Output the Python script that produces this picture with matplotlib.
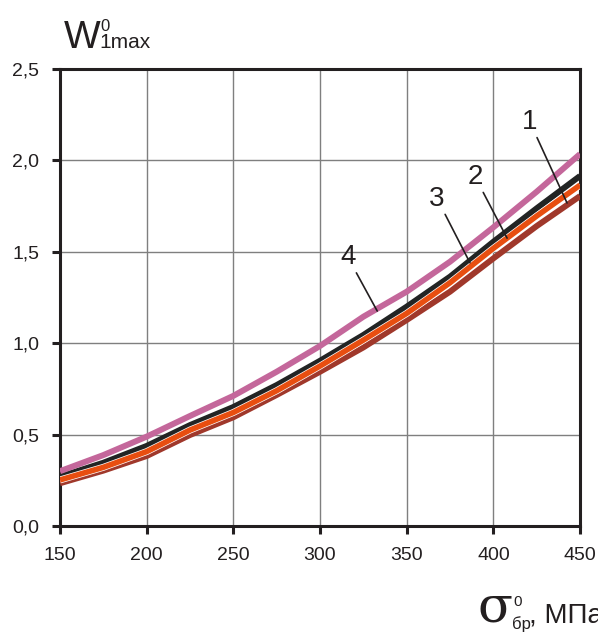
import matplotlib
matplotlib.use("Agg")

import matplotlib.pyplot as plt
import matplotlib.patheffects as pe

# stress, MPa
sigma = [150, 175, 200, 225, 250, 275, 300, 325, 350, 375, 400, 425, 450]

# curves 1..4
w_1 = [0.234, 0.303, 0.383, 0.498, 0.595, 0.717, 0.844, 0.977, 1.127, 1.282, 1.464, 1.641, 1.805]
w_2 = [0.252, 0.321, 0.407, 0.525, 0.621, 0.740, 0.875, 1.017, 1.163, 1.331, 1.519, 1.696, 1.865]
w_3 = [0.270, 0.346, 0.438, 0.552, 0.651, 0.771, 0.904, 1.045, 1.200, 1.364, 1.555, 1.738, 1.915]
w_4 = [0.300, 0.388, 0.489, 0.602, 0.712, 0.844, 0.985, 1.145, 1.282, 1.446, 1.634, 1.829, 2.035]

x_ticks = [150, 200, 250, 300, 350, 400, 450]
y_ticks = [0.0, 0.5, 1.0, 1.5, 2.0, 2.5]
y_tick_labels = ["0,0", "0,5", "1,0", "1,5", "2,0", "2,5"]

# curve labels: (text, label position, leader end)
labels = [
    ("1", (421, 2.14), (442.5, 1.767)),
    ("2", (389.4, 1.84), (407.9, 1.575)),
    ("3", (367.5, 1.72), (386.5, 1.44)),
    ("4", (316, 1.40), (333, 1.176)),
]

INK = "#231f20"

plt.rcParams["font.family"] = ["Liberation Sans", "DejaVu Sans"]

fig = plt.figure(figsize=(5.98, 6.32), dpi=100)
ax = fig.add_axes([0.1003, 0.1677, 0.8697, 0.7231])

ax.plot(sigma, w_1, color="#a0382b", lw=4.3, solid_capstyle="butt", zorder=3)
ax.plot(sigma, w_3, color="#222424", lw=4.3, solid_capstyle="butt", zorder=4)
ax.plot(sigma, w_2, color="#e84e10", lw=4.0, solid_capstyle="butt", zorder=5,
        path_effects=[pe.Stroke(linewidth=5.0, foreground="white"), pe.Normal()])
ax.plot(sigma, w_4, color="#c4679b", lw=4.3, solid_capstyle="butt", zorder=6)

for txt, (tx, ty), (ex, ey) in labels:
    ax.annotate(txt, xy=(ex, ey), xytext=(tx, ty), textcoords="data",
                ha="center", va="bottom", fontsize=20, color=INK,
                arrowprops=dict(arrowstyle="-", color=INK, lw=1.2,
                                shrinkA=0, shrinkB=0), zorder=7)

ax.set_xlim(150, 450)
ax.set_ylim(0, 2.5)
ax.set_xticks(x_ticks)
ax.set_xticklabels([str(v) for v in x_ticks])
ax.set_yticks(y_ticks)
ax.set_yticklabels(y_tick_labels)

ax.grid(True, color="#7f7f7f", lw=1.0)
ax.set_axisbelow(True)
for side in ("left", "right", "top", "bottom"):
    ax.spines[side].set_linewidth(2.2)
    ax.spines[side].set_color(INK)
ax.tick_params(direction="out", length=6, width=2.2, color=INK,
               labelsize=14, labelcolor=INK, pad=9)

# y axis label
fig.text(64 / 598, 1 - 48 / 632, "W", fontsize=28, color=INK, ha="left", va="baseline")
fig.text(100 / 598, 1 - 31 / 632, "0", fontsize=12, color=INK, ha="left", va="baseline")
fig.text(99 / 598, 1 - 48 / 632, "1max", fontsize=15, color=INK, ha="left", va="baseline")

# x axis label
fig.text(478 / 598, 1 - 622 / 632, "σ", fontsize=37, family="DejaVu Serif",
         color=INK, ha="left", va="baseline")
fig.text(513 / 598, 1 - 606 / 632, "0", fontsize=11, color=INK, ha="left", va="baseline")
fig.text(512 / 598, 1 - 629 / 632, "бр", fontsize=12, color=INK, ha="left", va="baseline")
fig.text(529 / 598, 1 - 622 / 632, ", МПа", fontsize=20, color=INK, ha="left", va="baseline")

fig.savefig("out.png", dpi=100, facecolor="white")
